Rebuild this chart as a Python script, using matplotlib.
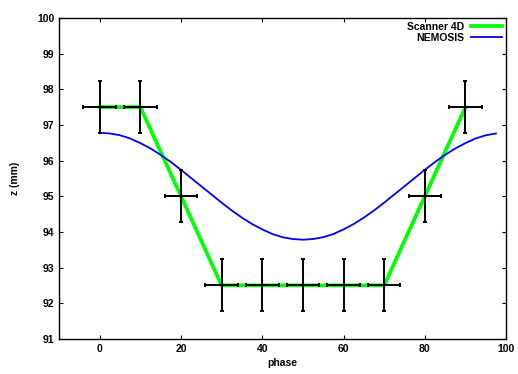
import matplotlib
matplotlib.use('Agg')
import matplotlib.pyplot as plt

plt.rcParams['font.family'] = ['Liberation Sans', 'DejaVu Sans']
plt.rcParams['font.weight'] = 'bold'

# Scanner 4D measurements
phase = [0, 10, 20, 30, 40, 50, 60, 70, 80, 90]
z_scan = [97.5, 97.5, 95.0, 92.5, 92.5, 92.5, 92.5, 92.5, 95.0, 97.5]
x_err = [4, 4, 4, 4, 4, 4, 4, 4, 4, 4]
z_err = [0.73, 0.73, 0.73, 0.73, 0.73, 0.73, 0.73, 0.73, 0.73, 0.73]

# NEMOSIS curve
phase_nem = [0, 2.5, 5, 7.5, 10, 12.5, 15, 17.5, 20, 22.5, 25, 27.5, 30, 32.5,
             35, 37.5, 40, 42.5, 45, 47.5, 50, 52.5, 55, 57.5, 60, 62.5, 65,
             67.5, 70, 72.5, 75, 77.5, 80, 82.5, 85, 87.5, 90, 92.5, 95, 97.5]
z_nem = [96.78, 96.76, 96.71, 96.62, 96.49, 96.34, 96.16, 95.96, 95.74, 95.51,
         95.28, 95.05, 94.82, 94.60, 94.40, 94.22, 94.07, 93.94, 93.85, 93.80,
         93.78, 93.80, 93.85, 93.94, 94.07, 94.22, 94.40, 94.60, 94.82, 95.05,
         95.28, 95.51, 95.74, 95.96, 96.16, 96.34, 96.49, 96.62, 96.71, 96.76]

fig = plt.figure(figsize=(5.18, 3.74), dpi=100)
ax = fig.add_axes([0.114, 0.094, 0.863, 0.858])

ax.plot(phase, z_scan, color='#00ff00', lw=2.7, label='Scanner 4D', zorder=2)
ax.plot(phase_nem, z_nem, color='#0000ff', lw=1.3, label='NEMOSIS', zorder=3)
ax.errorbar(phase, z_scan, xerr=x_err, yerr=z_err, fmt='none', ecolor='black',
            elinewidth=1.4, capsize=1.2, capthick=1.4, zorder=4)

ax.set_xlim(-10, 100)
ax.set_ylim(91, 100)
ax.set_xticks([0, 20, 40, 60, 80, 100])
ax.set_yticks(range(91, 101))
ax.tick_params(direction='in', top=True, right=True, length=3, width=0.8, labelsize=7.5)
for s in ax.spines.values():
    s.set_linewidth(1.0)

ax.set_xlabel('phase', fontsize=7.5, fontweight='bold', labelpad=3)
ax.set_ylabel('z (mm)', fontsize=7.5, fontweight='bold', labelpad=12)

leg = ax.legend(loc='upper right', frameon=False, markerfirst=False, fontsize=7.5,
                handlelength=3.0, handletextpad=0.6, labelspacing=0.05,
                borderaxespad=0.0)
for t in leg.get_texts():
    t.set_fontweight('bold')

fig.savefig('out.png', dpi=100)
